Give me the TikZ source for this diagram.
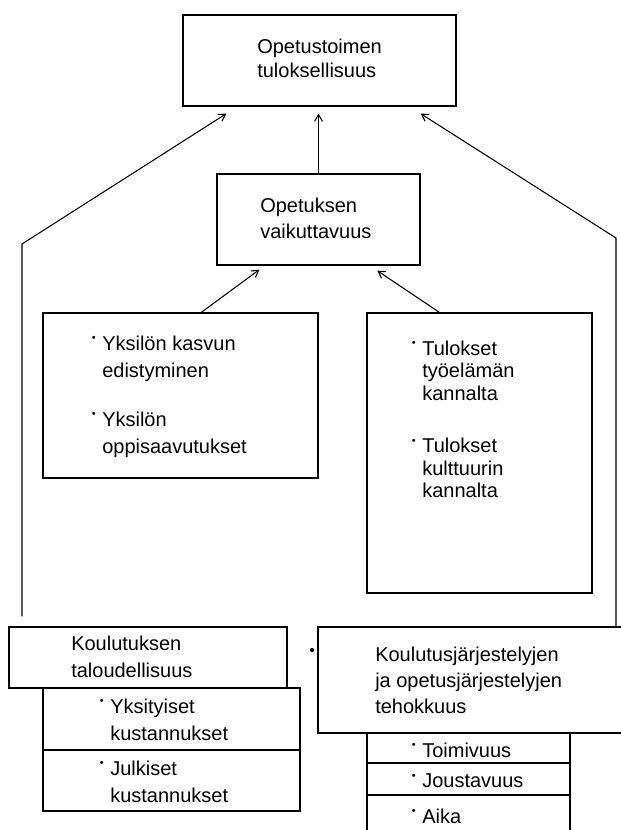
\documentclass[tikz,border=0pt]{standalone}
\usepackage{fontspec}
\setmainfont{Liberation Sans}
\usepackage{graphicx}
\usetikzlibrary{arrows.meta,calc,fit}
% hanging list bullet, set to the left of the item text
\newcommand\bul{\llap{\raisebox{0.8ex}{\scalebox{0.55}{\textbullet}}\hspace{5pt}}}

\begin{document}
\begin{tikzpicture}[x=0.75pt,y=-0.75pt,
  box/.style={draw, line width=1pt, inner sep=0pt},
  conn/.style={line width=0.8pt},
  arr/.style={conn, -{Straight Barb[length=5pt,width=6pt]}},
  txt/.style={anchor=north west, inner sep=0pt, align=left, font=\fontsize{15}{19.5}\selectfont},
]
\useasboundingbox (0,0) rectangle (620,830);

% frames
\node[box, fit={(183,15) (456,106)}] (T) {};
\node[box, fit={(217,174) (420,265)}] (M) {};
\node[box, fit={(43,313) (318,478)}] (L) {};
\node[box, fit={(367,313) (592,593)}] (R) {};
\node[box, fit={(9,627) (287,688)}] (K) {};
\node[box, fit={(43,688) (300,750)}] (K1) {};
\node[box, fit={(43,750) (300,811)}] (K2) {};
\node[box, fit={(318,627) (640,733)}] (B) {};
\node[box, fit={(367,733) (570,763)}] (B1) {};
\node[box, fit={(367,763) (570,795)}] (B2) {};
\node[box, fit={(367,795) (570,850)}] (B3) {};

% texts
\node[txt, font=\fontsize{15}{18}\selectfont] (tT) at (257,38.5) {Opetustoimen\\tuloksellisuus};
\node[txt] (tM) at (260,197.5) {Opetuksen\\vaikuttavuus};
\node[txt, font=\fontsize{15}{20.25}\selectfont] (tL) at (102,335.5)
  {\bul Yksilön kasvun\\edistyminen\\[16.5pt]\bul Yksilön\\oppisaavutukset};
\node[txt, font=\fontsize{15}{17}\selectfont] (tR) at (422,340.5)
  {\bul Tulokset\\työelämän\\kannalta\\[22pt]\bul Tulokset\\kulttuurin\\kannalta};
\node[txt, font=\fontsize{15}{20.25}\selectfont] (tK) at (71,635.5) {Koulutuksen\\taloudellisuus};
\node[txt, font=\fontsize{15}{20.25}\selectfont] (tK1) at (110,698.5) {\bul Yksityiset\\kustannukset};
\node[txt, font=\fontsize{15}{20.25}\selectfont] (tK2) at (110,760.5) {\bul Julkiset\\kustannukset};
\node[txt] (tB) at (375,646.5) {Koulutusjärjestelyjen\\ja opetusjärjestelyjen\\tehokkuus};
\node[txt] (tB1) at (422,742.5) {\bul Toimivuus};
\node[txt] (tB2) at (422,773.5) {\bul Joustavuus};
\node[txt] (tB3) at (422,808.5) {\bul Aika};

% stray bullet beside the lower right frame
\node[circle, fill, inner sep=1.1pt] (dot) at (312,650) {};

% connectors
\coordinate (lc) at (22,244);
\coordinate (rc) at (616,238);
\draw[arr] ($(K.north -| lc)+(0,-10)$) -- (lc) -- ($(T.south west)+(44,7)$);
\draw[arr] (B.north -| rc) -- (rc) -- ($(T.south east)+(-36,7)$);
\draw[arr] (M.north) -- ($(M.north |- T.south)+(0,7)$);
\draw[arr] ($(L.north west)+(159,0)$) -- ($(M.south west)+(43,4)$);
\draw[arr] ($(R.north west)+(73,0)$) -- ($(M.south west)+(161,5)$);
\end{tikzpicture}
\end{document}
